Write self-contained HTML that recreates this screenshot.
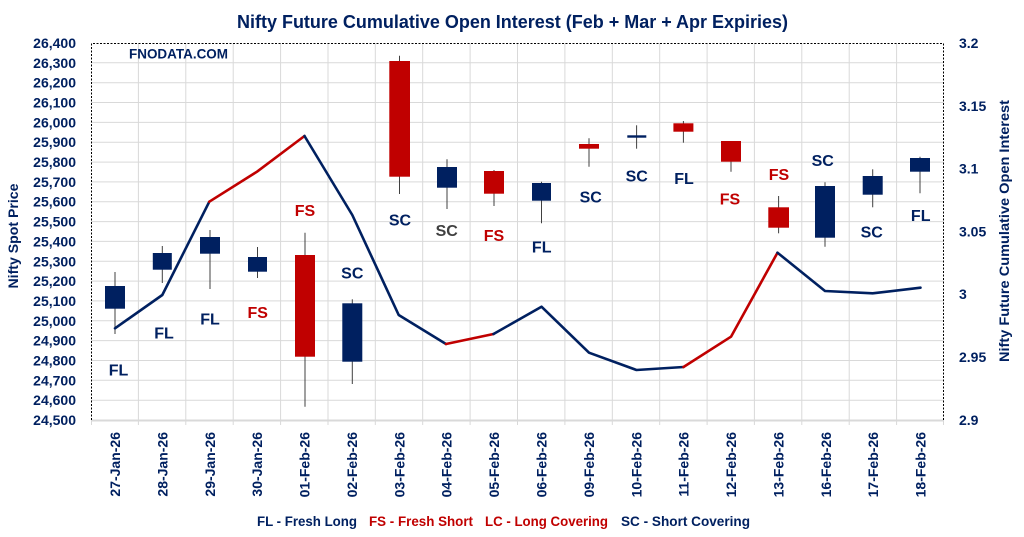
<!DOCTYPE html>
<html>
<head>
<meta charset="utf-8">
<style>
html,body{margin:0;padding:0;background:#fff;}
svg{display:block;}
text{font-family:"Liberation Sans",sans-serif;font-weight:bold;}
</style>
</head>
<body>
<svg width="1024" height="537" viewBox="0 0 1024 537" xmlns="http://www.w3.org/2000/svg">
<rect width="1024" height="537" fill="#fff"/>
<!-- Title -->
<text x="237" y="28" font-size="18" fill="#002060" textLength="551" lengthAdjust="spacingAndGlyphs">Nifty Future Cumulative Open Interest (Feb + Mar + Apr Expiries)</text>

<!-- horizontal gridlines -->
<g stroke="#d9d9d9" stroke-width="1">
<line x1="91" x2="944" y1="62.8" y2="62.8"/>
<line x1="91" x2="944" y1="82.7" y2="82.7"/>
<line x1="91" x2="944" y1="102.5" y2="102.5"/>
<line x1="91" x2="944" y1="122.4" y2="122.4"/>
<line x1="91" x2="944" y1="142.2" y2="142.2"/>
<line x1="91" x2="944" y1="162.1" y2="162.1"/>
<line x1="91" x2="944" y1="181.9" y2="181.9"/>
<line x1="91" x2="944" y1="201.7" y2="201.7"/>
<line x1="91" x2="944" y1="221.6" y2="221.6"/>
<line x1="91" x2="944" y1="241.4" y2="241.4"/>
<line x1="91" x2="944" y1="261.3" y2="261.3"/>
<line x1="91" x2="944" y1="281.1" y2="281.1"/>
<line x1="91" x2="944" y1="300.9" y2="300.9"/>
<line x1="91" x2="944" y1="320.8" y2="320.8"/>
<line x1="91" x2="944" y1="340.6" y2="340.6"/>
<line x1="91" x2="944" y1="360.5" y2="360.5"/>
<line x1="91" x2="944" y1="380.3" y2="380.3"/>
<line x1="91" x2="944" y1="400.2" y2="400.2"/>
</g>
<!-- vertical gridlines + ticks -->
<g stroke="#d9d9d9" stroke-width="1">
<line x1="138.4" x2="138.4" y1="43" y2="425"/>
<line x1="185.8" x2="185.8" y1="43" y2="425"/>
<line x1="233.2" x2="233.2" y1="43" y2="425"/>
<line x1="280.6" x2="280.6" y1="43" y2="425"/>
<line x1="328.0" x2="328.0" y1="43" y2="425"/>
<line x1="375.3" x2="375.3" y1="43" y2="425"/>
<line x1="422.7" x2="422.7" y1="43" y2="425"/>
<line x1="470.1" x2="470.1" y1="43" y2="425"/>
<line x1="517.5" x2="517.5" y1="43" y2="425"/>
<line x1="564.9" x2="564.9" y1="43" y2="425"/>
<line x1="612.3" x2="612.3" y1="43" y2="425"/>
<line x1="659.7" x2="659.7" y1="43" y2="425"/>
<line x1="707.1" x2="707.1" y1="43" y2="425"/>
<line x1="754.4" x2="754.4" y1="43" y2="425"/>
<line x1="801.8" x2="801.8" y1="43" y2="425"/>
<line x1="849.2" x2="849.2" y1="43" y2="425"/>
<line x1="896.6" x2="896.6" y1="43" y2="425"/>
<line x1="91.5" x2="91.5" y1="420" y2="425"/>
<line x1="943.5" x2="943.5" y1="420" y2="425"/>
</g>
<!-- bottom axis -->
<line x1="91" x2="944" y1="420.5" y2="420.5" stroke="#d9d9d9" stroke-width="2"/>
<!-- dotted border -->
<path d="M91.5 420 V43.5 H943.5 V420" fill="none" stroke="#000" stroke-width="1" stroke-dasharray="2,1.5"/>

<!-- FNODATA -->
<text x="129" y="58.5" font-size="14" fill="#002060" textLength="99" lengthAdjust="spacingAndGlyphs">FNODATA.COM</text>

<!-- left tick labels -->
<g font-size="14" fill="#002060" text-anchor="end">
<text x="76" y="48">26,400</text>
<text x="76" y="67.8">26,300</text>
<text x="76" y="87.7">26,200</text>
<text x="76" y="107.5">26,100</text>
<text x="76" y="127.4">26,000</text>
<text x="76" y="147.2">25,900</text>
<text x="76" y="167.1">25,800</text>
<text x="76" y="186.9">25,700</text>
<text x="76" y="206.7">25,600</text>
<text x="76" y="226.6">25,500</text>
<text x="76" y="246.4">25,400</text>
<text x="76" y="266.3">25,300</text>
<text x="76" y="286.1">25,200</text>
<text x="76" y="305.9">25,100</text>
<text x="76" y="325.8">25,000</text>
<text x="76" y="345.6">24,900</text>
<text x="76" y="365.5">24,800</text>
<text x="76" y="385.3">24,700</text>
<text x="76" y="405.2">24,600</text>
<text x="76" y="425">24,500</text>
</g>
<!-- right tick labels -->
<g font-size="14" fill="#002060">
<text x="959" y="48">3.2</text>
<text x="959" y="110.8">3.15</text>
<text x="959" y="173.5">3.1</text>
<text x="959" y="236.3">3.05</text>
<text x="959" y="299">3</text>
<text x="959" y="361.8">2.95</text>
<text x="959" y="425">2.9</text>
</g>
<!-- axis titles -->
<text transform="translate(18,236) rotate(-90)" font-size="14" fill="#002060" text-anchor="middle" textLength="105" lengthAdjust="spacingAndGlyphs">Nifty Spot Price</text>
<text transform="translate(1009,231) rotate(-90)" font-size="14" fill="#002060" text-anchor="middle" textLength="262" lengthAdjust="spacingAndGlyphs">Nifty Future Cumulative Open Interest</text>

<!-- x labels -->
<g font-size="14" fill="#002060" text-anchor="end">
<text transform="translate(120,432) rotate(-90)">27-Jan-26</text>
<text transform="translate(167.4,432) rotate(-90)">28-Jan-26</text>
<text transform="translate(214.8,432) rotate(-90)">29-Jan-26</text>
<text transform="translate(262.2,432) rotate(-90)">30-Jan-26</text>
<text transform="translate(309.6,432) rotate(-90)">01-Feb-26</text>
<text transform="translate(356.9,432) rotate(-90)">02-Feb-26</text>
<text transform="translate(404.3,432) rotate(-90)">03-Feb-26</text>
<text transform="translate(451.7,432) rotate(-90)">04-Feb-26</text>
<text transform="translate(499.1,432) rotate(-90)">05-Feb-26</text>
<text transform="translate(546.5,432) rotate(-90)">06-Feb-26</text>
<text transform="translate(593.9,432) rotate(-90)">09-Feb-26</text>
<text transform="translate(641.3,432) rotate(-90)">10-Feb-26</text>
<text transform="translate(688.7,432) rotate(-90)">11-Feb-26</text>
<text transform="translate(736.1,432) rotate(-90)">12-Feb-26</text>
<text transform="translate(783.5,432) rotate(-90)">13-Feb-26</text>
<text transform="translate(830.8,432) rotate(-90)">16-Feb-26</text>
<text transform="translate(878.2,432) rotate(-90)">17-Feb-26</text>
<text transform="translate(925.6,432) rotate(-90)">18-Feb-26</text>
</g>

<!-- wicks -->
<g stroke="#404040" stroke-width="1">
<line x1="115" x2="115" y1="272" y2="334"/>
<line x1="162.3" x2="162.3" y1="246" y2="283"/>
<line x1="210" x2="210" y1="230" y2="289"/>
<line x1="257.5" x2="257.5" y1="247" y2="278"/>
<line x1="305" x2="305" y1="232.7" y2="406.7"/>
<line x1="352.3" x2="352.3" y1="299.3" y2="384"/>
<line x1="399.5" x2="399.5" y1="55.7" y2="194"/>
<line x1="447" x2="447" y1="159.3" y2="209"/>
<line x1="494" x2="494" y1="170" y2="206"/>
<line x1="541.5" x2="541.5" y1="181.7" y2="223.3"/>
<line x1="589" x2="589" y1="138.3" y2="166.7"/>
<line x1="636.6" x2="636.6" y1="125.3" y2="148.7"/>
<line x1="683.4" x2="683.4" y1="121" y2="142.7"/>
<line x1="731" x2="731" y1="141" y2="171.7"/>
<line x1="778.6" x2="778.6" y1="196" y2="233.3"/>
<line x1="825" x2="825" y1="182.3" y2="246.7"/>
<line x1="872.7" x2="872.7" y1="169.3" y2="207.3"/>
<line x1="920" x2="920" y1="156.7" y2="193.3"/>
</g>
<!-- bodies -->
<g>
<rect x="105" y="286" width="20" height="22.7" fill="#002060"/>
<rect x="152.8" y="253" width="19" height="16.7" fill="#002060"/>
<rect x="200" y="237" width="20" height="16.7" fill="#002060"/>
<rect x="248" y="257" width="19" height="14.7" fill="#002060"/>
<rect x="295" y="255" width="20" height="101.7" fill="#C00000"/>
<rect x="342.3" y="303.3" width="20" height="58.4" fill="#002060"/>
<rect x="389.3" y="61" width="20.7" height="115.7" fill="#C00000"/>
<rect x="437" y="167" width="20" height="20.7" fill="#002060"/>
<rect x="484" y="171" width="20" height="22.7" fill="#C00000"/>
<rect x="532" y="183" width="19" height="17.7" fill="#002060"/>
<rect x="579" y="144" width="20" height="4.7" fill="#C00000"/>
<rect x="627.3" y="135.3" width="19" height="2.4" fill="#002060"/>
<rect x="673.4" y="123.3" width="20" height="8.4" fill="#C00000"/>
<rect x="721" y="141" width="20" height="20.7" fill="#C00000"/>
<rect x="768.3" y="207.3" width="20.7" height="20.4" fill="#C00000"/>
<rect x="815" y="186" width="20" height="51.7" fill="#002060"/>
<rect x="862.7" y="176" width="20" height="18.7" fill="#002060"/>
<rect x="910" y="158" width="20" height="13.7" fill="#002060"/>
</g>

<!-- OI line -->
<g fill="none" stroke-width="2.6" stroke-linejoin="round" stroke-linecap="round">
<polyline stroke="#002060" points="115,328.3 162.3,295 209.3,201.7"/>
<polyline stroke="#C00000" points="209.3,201.7 257,171.7 304.5,136"/>
<polyline stroke="#002060" points="304.5,136 352.3,215 398.7,315 446,344"/>
<polyline stroke="#C00000" points="446,344 493.5,334"/>
<polyline stroke="#002060" points="493.5,334 541.5,306.7 589,352.7 636.5,370 683.5,367"/>
<polyline stroke="#C00000" points="683.5,367 731,336.7 777.5,252.7"/>
<polyline stroke="#002060" points="777.5,252.7 825,291 872.7,293.3 920.5,287.7"/>
</g>

<!-- candle labels -->
<g font-size="16" text-anchor="middle">
<text x="118.5" y="375.5" fill="#002060">FL</text>
<text x="164" y="338.5" fill="#002060">FL</text>
<text x="210" y="324.5" fill="#002060">FL</text>
<text x="257.7" y="318" fill="#C00000">FS</text>
<text x="305" y="216" fill="#C00000">FS</text>
<text x="352.3" y="278.5" fill="#002060">SC</text>
<text x="400" y="225.3" fill="#002060">SC</text>
<text x="446.7" y="236" fill="#404040">SC</text>
<text x="494" y="241" fill="#C00000">FS</text>
<text x="541.7" y="252.5" fill="#002060">FL</text>
<text x="590.7" y="202.5" fill="#002060">SC</text>
<text x="636.7" y="181.5" fill="#002060">SC</text>
<text x="684" y="184" fill="#002060">FL</text>
<text x="730" y="204.3" fill="#C00000">FS</text>
<text x="779" y="180" fill="#C00000">FS</text>
<text x="822.7" y="166" fill="#002060">SC</text>
<text x="871.7" y="237.5" fill="#002060">SC</text>
<text x="920.7" y="221" fill="#002060">FL</text>
</g>

<!-- legend -->
<g font-size="14">
<text x="257" y="526" fill="#002060" textLength="100" lengthAdjust="spacingAndGlyphs">FL - Fresh Long</text>
<text x="369" y="526" fill="#C00000" textLength="104" lengthAdjust="spacingAndGlyphs">FS - Fresh Short</text>
<text x="485" y="526" fill="#C00000" textLength="123" lengthAdjust="spacingAndGlyphs">LC - Long Covering</text>
<text x="621" y="526" fill="#002060" textLength="129" lengthAdjust="spacingAndGlyphs">SC - Short Covering</text>
</g>
</svg>
</body>
</html>
